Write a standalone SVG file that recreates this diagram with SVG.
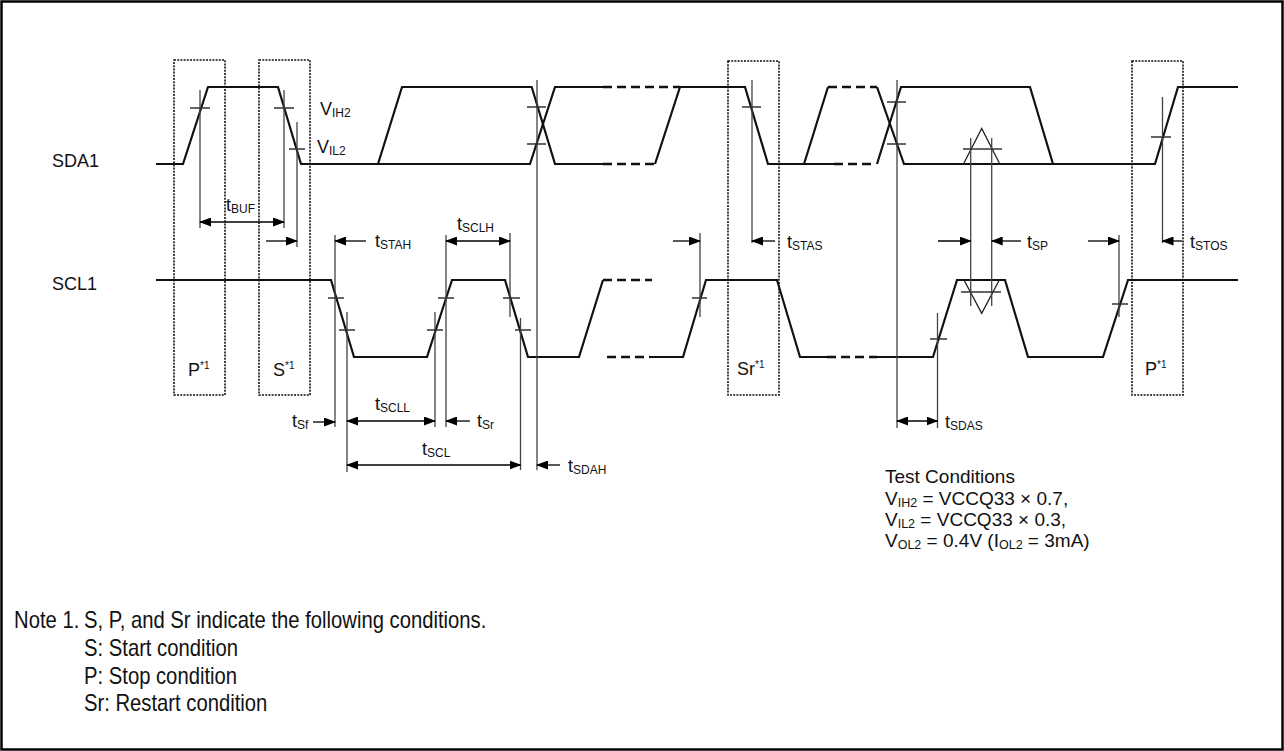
<svg xmlns="http://www.w3.org/2000/svg" width="1284" height="751" viewBox="0 0 1284 751">
<defs>
<marker id="ah" markerUnits="userSpaceOnUse" markerWidth="12" markerHeight="9" refX="11" refY="4.5" orient="auto-start-reverse"><path d="M0,0 L12,4.5 L0,9 z" fill="#000"/></marker>
</defs>
<style>
.sig{fill:none;stroke:#111;stroke-width:2.2;stroke-linejoin:miter}
.dsh{fill:none;stroke:#111;stroke-width:2.6;stroke-dasharray:9,5}
.ref{fill:none;stroke:#444;stroke-width:1.3}
.tick{fill:none;stroke:#333;stroke-width:1.3}
.thin{fill:none;stroke:#222;stroke-width:1.3}
.box{fill:none;stroke:#111;stroke-width:1.6;stroke-dasharray:2,1.2}
.arr{fill:none;stroke:#000;stroke-width:1.3}
.lbl{font-family:"Liberation Sans",Arial,sans-serif;font-size:18px;fill:#111}
.sub{font-size:12px}
.sup{font-size:10px}
.tc{font-family:"Liberation Sans",Arial,sans-serif;font-size:19px;fill:#111}
.note{font-family:"Liberation Sans",Arial,sans-serif;font-size:23px;fill:#111}
</style>
<rect x="1.5" y="1.5" width="1281" height="748" fill="#fff" stroke="#000" stroke-width="2.5"/>

<g id="boxes">
<rect class="box" x="174" y="60" width="51" height="335"/>
<rect class="box" x="259" y="60" width="51" height="335"/>
<rect class="box" x="728" y="61" width="51" height="334"/>
<rect class="box" x="1132" y="61" width="51" height="334"/>
</g>

<g id="sda">
<path class="sig" d="M156,164 H183 L208,87 H278 L301,164 H530 L555,87 H603"/>
<path class="sig" d="M378,164 L402,87 H531.7 L555,164 H603"/>
<path class="dsh" d="M603,87 H680 M603,164 H655"/>
<path class="sig" d="M655,164 L680,87 H745 L768,164 H834"/>
<path class="sig" d="M804,164 L828,87"/>
<path class="dsh" d="M828,87 H877 M834,164 H876"/>
<path class="sig" d="M877,87 L904,164 H1155 L1178,87 H1238"/>
<path class="sig" d="M877,164 L901,87 H1030 L1053,164"/>
<path class="thin" d="M964,163 L981.7,128.5 L999.3,163"/>
</g>

<g id="scl">
<path class="sig" d="M156,280 H331 L354,357 H427 L452,280 H505 L528,357 H579 L603,280"/>
<path class="dsh" d="M603,280 H652 M607,357 H650"/>
<path class="sig" d="M650,357 H683 L706,280 H777 L800,357 H827"/>
<path class="dsh" d="M827,357 H877"/>
<path class="sig" d="M877,357 H933 L957,280 H1005 L1028,357 H1103 L1128,280 H1238"/>
<path class="thin" d="M964,280 L981.7,313.3 L999.3,280"/>
</g>

<g id="connectors">
<g id="reflines">
<path class="ref" d="M200,90 V228 M284,90 V228 M297,122 V247 M335,235 V427 M347,312 V472 M435,312 V427 M446,235 V427 M510,233 V317 M520.5,318 V470 M537,80 V470 M700,233 V317 M752,80 V243 M897,80 V428 M937.5,313 V428 M970.7,138 V306 M991.7,138 V306 M1119,235 V317 M1162.5,97 V243"/>
</g>
<g id="ticks">
<path class="tick" d="M190,108 H210 M274,108 H294 M289,149 H305 M527,107 H546 M527,144 H546 M742,107 H761 M887,102 H906 M887,144 H906 M963,149 H1002 M1151,137 H1171"/>
<path class="tick" d="M328,298 H344 M339,330 H355 M427,330 H443 M438,298 H454 M503,298 H520 M515,330 H531 M692,298 H707 M930,339 H947 M961,292 H1001 M1112,304 H1128"/>
</g>
<g id="arrows">
<path class="arr" d="M200,222 H284" marker-start="url(#ah)" marker-end="url(#ah)"/>
<path class="arr" d="M266,241 H297" marker-end="url(#ah)"/>
<path class="arr" d="M366,241 H335" marker-end="url(#ah)"/>
<path class="arr" d="M446,241 H510" marker-start="url(#ah)" marker-end="url(#ah)"/>
<path class="arr" d="M313,422 H335" marker-end="url(#ah)"/>
<path class="arr" d="M347,421 H435" marker-start="url(#ah)" marker-end="url(#ah)"/>
<path class="arr" d="M470,421 H446" marker-end="url(#ah)"/>
<path class="arr" d="M347,465 H520.5" marker-start="url(#ah)" marker-end="url(#ah)"/>
<path class="arr" d="M560,465 H537" marker-end="url(#ah)"/>
<path class="arr" d="M673,241 H700" marker-end="url(#ah)"/>
<path class="arr" d="M775,241 H752" marker-end="url(#ah)"/>
<path class="arr" d="M897,421 H937.5" marker-start="url(#ah)" marker-end="url(#ah)"/>
<path class="arr" d="M938,241 H970.7" marker-end="url(#ah)"/>
<path class="arr" d="M1021,241 H991.7" marker-end="url(#ah)"/>
<path class="arr" d="M1088,241 H1119" marker-end="url(#ah)"/>
<path class="arr" d="M1182,241 H1162.5" marker-end="url(#ah)"/>
</g>
</g>

<g id="labels">
<text class="lbl" x="52" y="167" font-size="15.5">SDA1</text>
<text class="lbl" x="52" y="290" font-size="15.5">SCL1</text>
<text class="lbl" x="320" y="115">V<tspan class="sub" dy="2">IH2</tspan></text>
<text class="lbl" x="317" y="153">V<tspan class="sub" dy="2">IL2</tspan></text>
<text class="lbl" x="226" y="211">t<tspan class="sub" dy="1.5">BUF</tspan></text>
<text class="lbl" x="375" y="247">t<tspan class="sub" dy="1.5">STAH</tspan></text>
<text class="lbl" x="457" y="230">t<tspan class="sub" dy="1.5">SCLH</tspan></text>
<text class="lbl" x="292" y="427">t<tspan class="sub" dy="1.5">Sf</tspan></text>
<text class="lbl" x="375" y="410">t<tspan class="sub" dy="1.5">SCLL</tspan></text>
<text class="lbl" x="477" y="427">t<tspan class="sub" dy="1.5">Sr</tspan></text>
<text class="lbl" x="422" y="455">t<tspan class="sub" dy="1.5">SCL</tspan></text>
<text class="lbl" x="568" y="472">t<tspan class="sub" dy="1.5">SDAH</tspan></text>
<text class="lbl" x="787" y="248">t<tspan class="sub" dy="1.5">STAS</tspan></text>
<text class="lbl" x="945" y="428">t<tspan class="sub" dy="1.5">SDAS</tspan></text>
<text class="lbl" x="1027" y="248">t<tspan class="sub" dy="1.5">SP</tspan></text>
<text class="lbl" x="1190" y="248">t<tspan class="sub" dy="1.5">STOS</tspan></text>
<text class="lbl" x="188" y="376">P<tspan class="sup" dy="-7">*1</tspan></text>
<text class="lbl" x="273" y="376">S<tspan class="sup" dy="-7">*1</tspan></text>
<text class="lbl" x="737" y="375">Sr<tspan class="sup" dy="-7">*1</tspan></text>
<text class="lbl" x="1145" y="375">P<tspan class="sup" dy="-7">*1</tspan></text>
</g>

<g id="test-conditions">
<text class="tc" x="885" y="483">Test Conditions</text>
<text class="tc" x="885" y="505">V<tspan font-size="12.5" dy="2">IH2</tspan><tspan dy="-2"> = VCCQ33 × 0.7,</tspan></text>
<text class="tc" x="885" y="526">V<tspan font-size="12.5" dy="2">IL2</tspan><tspan dy="-2"> = VCCQ33 × 0.3,</tspan></text>
<text class="tc" x="885" y="547">V<tspan font-size="12.5" dy="2">OL2</tspan><tspan dy="-2"> = 0.4V (I</tspan><tspan font-size="12.5" dy="2">OL2</tspan><tspan dy="-2"> = 3mA)</tspan></text>
</g>

<g id="note" transform="scale(0.88,1)">
<text class="note" x="16" y="628">Note 1.</text>
<text class="note" x="95.5" y="628">S, P, and Sr indicate the following conditions.</text>
<text class="note" x="95.5" y="656">S: Start condition</text>
<text class="note" x="95.5" y="684">P: Stop condition</text>
<text class="note" x="95.5" y="711">Sr: Restart condition</text>
</g>
</svg>
